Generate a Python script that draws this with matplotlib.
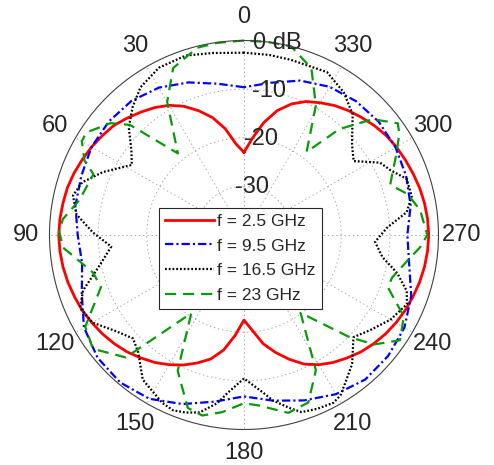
import numpy as np
import matplotlib
matplotlib.use('Agg')
import matplotlib.pyplot as plt

plt.rcParams['font.family'] = ['Liberation Sans', 'DejaVu Sans']
plt.rcParams['lines.scale_dashes'] = False   # dash lengths given in points

# radiation patterns in dB, angle in degrees (0 at top, counter-clockwise)
red_deg = list(range(0, 365, 5))
red_db = [-23.0, -21.2, -17.8, -15.0, -12.8, -10.8, -9.2, -8.0, -7.0, -6.0,
          -5.0, -4.4, -3.8, -3.3, -2.8, -2.4, -2.2, -2.0, -1.9, -2.0,
          -2.2, -2.5, -2.9, -3.3, -3.9, -4.5, -5.2, -6.0, -7.0, -8.0,
          -9.2, -10.5, -12.0, -13.6, -16.0, -19.3, -22.5, -20.3, -17.3, -15.0,
          -12.8, -10.7, -9.2, -8.0, -7.0, -6.0, -5.2, -4.5, -3.9, -3.4,
          -3.0, -2.6, -2.3, -2.1, -2.0, -2.1, -2.3, -2.6, -3.0, -3.4,
          -3.8, -4.3, -5.0, -5.8, -6.6, -7.5, -8.6, -9.7, -11.3, -13.5,
          -16.5, -20.0, -23.0]

blue_deg = list(range(0, 370, 10))
blue_db = [-9.6, -8.4, -6.6, -5.0, -4.0, -3.7, -3.8, -4.4, -4.8, -5.8,
           -6.2, -4.5, -2.0, -0.7, -0.4, -1.1, -3.0, -5.2, -6.8, -5.4,
           -3.8, -2.2, -1.2, -1.3, -1.9, -3.4, -5.5, -6.4, -5.2, -4.5,
           -4.0, -3.8, -4.1, -4.8, -6.2, -8.2, -9.6]

black_deg = [0, 10, 18, 27, 35, 41, 47, 53, 58, 66,
             72, 77, 83, 89, 95, 102, 109, 114, 120, 127,
             133, 138, 145, 154, 158, 162, 166, 171, 174, 180,
             187, 190, 195, 198, 203, 208, 211, 215, 220, 227,
             233, 240, 247, 251, 256, 261, 267, 273, 278, 283,
             289, 294, 298, 304, 310, 318, 325, 333, 345, 352, 360]
black_db = [-2.5, -2.0, -1.2, -1.4, -2.9, -5.1, -7.6, -11.0, -12.8, -8.2,
            -5.0, -3.9, -5.3, -8.9, -12.6, -9.6, -5.0, -3.1, -4.0, -7.1,
            -8.8, -7.5, -3.7, -1.6, -1.1, -1.6, -2.4, -5.0, -7.3, -10.5,
            -7.3, -5.4, -3.1, -1.7, -1.2, -0.9, -1.5, -3.4, -5.4, -9.2,
            -7.5, -5.2, -3.6, -4.6, -7.5, -11.2, -13.0, -10.5, -6.2, -4.6,
            -4.6, -7.1, -8.3, -12.8, -11.0, -6.6, -4.2, -2.4, -2.7, -2.6, -2.5]

green_deg = [0, 8, 14, 23, 30, 39, 46, 50, 57, 60,
             65, 68, 78, 85, 89, 94, 98, 104, 110, 120,
             127, 136, 146, 154, 162, 167, 173, 180, 185, 194,
             201, 208, 216, 226, 230, 236, 243, 250, 254, 261,
             266, 270, 278, 284, 289, 297, 303, 306, 312, 318,
             323, 331, 338, 346, 353, 360]
green_db = [0.0, -0.1, -0.3, -2.7, -8.4, -18.4, -7.4, -4.2, -1.3, -1.5,
            -3.8, -6.6, -5.4, -2.6, -2.0, -2.7, -5.2, -8.0, -8.7, -2.3,
            -1.1, -5.0, -20.6, -8.9, -2.6, -1.9, -3.3, -5.4, -4.8, -2.3,
            -3.1, -8.5, -20.2, -9.7, -5.0, -1.3, -3.1, -8.5, -8.3, -6.0,
            -3.7, -2.3, -3.4, -5.3, -8.2, -5.0, -1.9, -0.9, -4.4, -10.7,
            -18.6, -9.5, -3.0, 0.0, 0.0, 0.0]

labels = ['f = 2.5 GHz', 'f = 9.5 GHz', 'f = 16.5 GHz', 'f = 23 GHz']
ring_db = [-30, -20, -10, 0]
ring_text = ['-30', '-20', '-10', '0 dB']
txt_color = '#262626'

fig = plt.figure(figsize=(4.94, 4.65), dpi=100)
ax = fig.add_axes([0.1002, 0.0763, 0.7874, 0.8366], projection='polar')
ax.set_theta_zero_location('N')
ax.set_theta_direction(1)
ax.set_rlim(-40, 0)

ax.set_rgrids([-30, -20, -10], labels=[])
ax.set_thetagrids(range(0, 360, 30), labels=[])
ax.grid(True, color='#a6a6a6', linestyle=(0, (1, 2)), linewidth=0.7)
ax.spines['polar'].set_edgecolor('#404040')
ax.spines['polar'].set_linewidth(0.8)

l1, = ax.plot(np.deg2rad(red_deg), red_db, color='#ff0000', lw=2.0, clip_on=False)
l2, = ax.plot(np.deg2rad(blue_deg), blue_db, color='#0000ff', lw=1.6,
              linestyle=(0, (6, 2.2, 1.5, 2.2)), clip_on=False)
l3, = ax.plot(np.deg2rad(black_deg), black_db, color='black', lw=1.6,
              linestyle=(0, (1.3, 1.4)), clip_on=False)
l4, = ax.plot(np.deg2rad(green_deg), green_db, color='#0a990a', lw=1.6,
              linestyle=(0, (8, 5)), clip_on=False)

# angle labels around the outside
for a in range(0, 360, 30):
    ax.text(np.deg2rad(a), 4.8, str(a), ha='center', va='center',
            fontsize=17, color=txt_color)

# radial labels just right of the top spoke
for v, s in zip(ring_db, ring_text):
    ax.text(np.deg2rad(350), v, s, ha='center', va='center',
            fontsize=17, color=txt_color)

leg = ax.legend([l1, l2, l3, l4], labels, loc='lower left',
                bbox_to_anchor=(0.322, 0.3355), bbox_transform=fig.transFigure,
                fontsize=12.5, fancybox=False, framealpha=1, edgecolor=txt_color,
                borderpad=0.35, handlelength=2.8, handletextpad=0.2,
                labelspacing=0.55, borderaxespad=0)
leg.get_frame().set_linewidth(0.8)
for t in leg.get_texts():
    t.set_color(txt_color)

fig.savefig('out.png', dpi=100)
